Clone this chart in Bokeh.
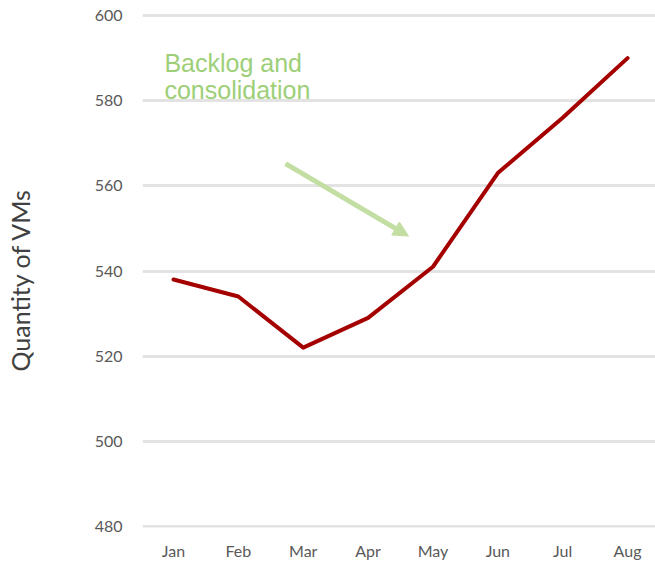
from bokeh.plotting import figure
from bokeh.models import Range1d, FixedTicker, Label, Arrow, NormalHead, Title, LinearAxis
from bokeh.embed import file_html
from bokeh.resources import INLINE

months = ["Jan", "Feb", "Mar", "Apr", "May", "Jun", "Jul", "Aug"]
vms = [538, 534, 522, 529, 541, 563, 576, 590]
y_ticks = [480, 500, 520, 540, 560, 580, 600]
note_lines = ["Backlog and", "consolidation"]
y_title = "Quantity of VMs"

xs = list(range(len(months)))

p = figure(width=655, height=562, output_backend="svg", toolbar_location=None,
           x_range=Range1d(-0.478, 7.431), y_range=Range1d(479.76, 603.53),
           min_border_left=142, min_border_right=0, min_border_top=0, min_border_bottom=20)
p.outline_line_color = None
p.background_fill_color = "white"
p.border_fill_color = "white"

# axes
p.xaxis.ticker = FixedTicker(ticks=xs)
p.xaxis.major_label_overrides = {i: m for i, m in enumerate(months)}
p.yaxis.ticker = FixedTicker(ticks=y_ticks)
for ax in (p.xaxis, p.yaxis):
    ax.axis_line_color = None
    ax.major_tick_line_color = None
    ax.minor_tick_line_color = None
    ax.major_label_text_font = "Lato"
    ax.major_label_text_font_size = "16px"
    ax.major_label_text_color = "#595959"
p.xaxis.major_label_standoff = 7
p.yaxis.major_label_standoff = 14

# blank spacer axis (one white tick, no label) to push the y title outward
spacer = LinearAxis(ticker=FixedTicker(ticks=[y_ticks[0]]), axis_line_color=None,
                    major_tick_line_color="white", minor_tick_line_color=None,
                    major_tick_in=0, major_tick_out=53, minor_tick_out=0,
                    major_label_overrides={y_ticks[0]: ""}, major_label_standoff=0)
p.add_layout(spacer, "left")

# y title
p.add_layout(Title(text=y_title, align="left", vertical_align="top", text_font="Lato",
                   text_font_size="25px", text_font_style="normal", text_color="#404040",
                   standoff=4, offset=156), "left")

p.xgrid.grid_line_color = None
p.ygrid.grid_line_color = "#E3E3E3"
p.ygrid.grid_line_width = 3

# main line
p.line(xs, vms, line_color="#A50000", line_width=4, line_cap="round", line_join="round")

# annotation text
note_y = [588.95, 582.55]
for t, yy in zip(note_lines, note_y):
    p.add_layout(Label(x=-0.14, y=yy, text=t, text_font="Liberation Sans",
                       text_font_size="25px", text_color="#9DCF78", text_baseline="alphabetic"))

# arrow
p.add_layout(Arrow(x_start=1.727, y_start=565.2, x_end=3.623, y_end=548.2,
                   line_color="#C3DEA2", line_width=5,
                   end=NormalHead(size=15, fill_color="#C3DEA2", line_color="#C3DEA2")))

open("out.html", "w").write(file_html(p, INLINE))
